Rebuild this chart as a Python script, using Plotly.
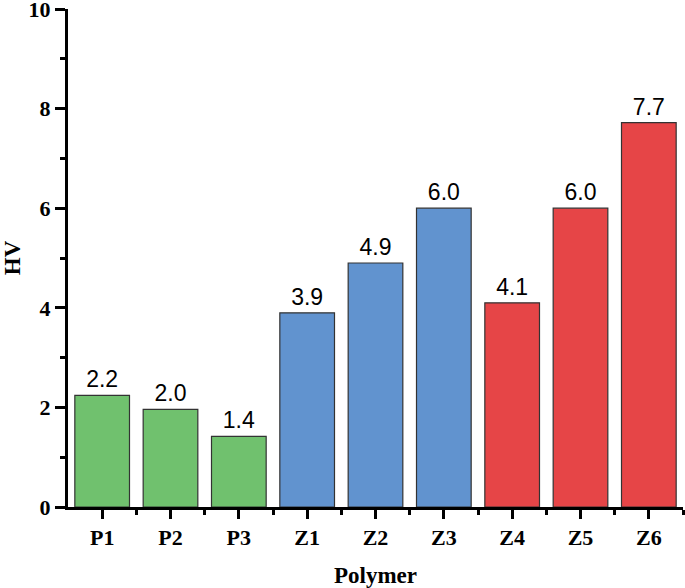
import plotly.graph_objects as go

categories = ["P1", "P2", "P3", "Z1", "Z2", "Z3", "Z4", "Z5", "Z6"]
hv_values = [2.24, 1.96, 1.42, 3.9, 4.9, 6.0, 4.1, 6.0, 7.72]
value_labels = ["2.2", "2.0", "1.4", "3.9", "4.9", "6.0", "4.1", "6.0", "7.7"]
bar_colors = ["#70C16E"] * 3 + ["#6193CF"] * 3 + ["#E64547"] * 3

xpos = list(range(len(categories)))

fig = go.Figure(go.Bar(
    x=xpos, y=hv_values, width=0.8,
    marker=dict(color=bar_colors, line=dict(color="#333333", width=1.2)),
    text=value_labels, textposition="outside", cliponaxis=False,
    textfont=dict(family="Liberation Sans, Arial", size=23, color="black"),
))

axis_font = dict(family="Liberation Serif, Times New Roman", size=22, color="black", weight="bold")
title_font = dict(family="Liberation Serif, Times New Roman", size=23, color="black", weight="bold")

fig.update_layout(
    width=685, height=588,
    margin=dict(l=68, r=2, t=9, b=81),
    plot_bgcolor="white", paper_bgcolor="white",
    showlegend=False,
    xaxis=dict(
        range=[-0.5, 8.5], tickvals=xpos, ticktext=categories,
        showline=True, linecolor="black", linewidth=3,
        ticks="outside", ticklen=9, tickwidth=3, tickcolor="black",
        minor=dict(tickvals=[i - 0.5 for i in range(1, len(categories) + 1)],
                   ticks="outside", ticklen=5, tickwidth=3, tickcolor="black"),
        tickfont=axis_font, showgrid=False, zeroline=False, automargin=False,
        title=dict(text="Polymer", font=title_font, standoff=18),
    ),
    yaxis=dict(
        range=[0, 10], tickvals=[0, 2, 4, 6, 8, 10],
        showline=True, linecolor="black", linewidth=3,
        ticks="outside", ticklen=10, tickwidth=3, tickcolor="black",
        minor=dict(tickvals=[1, 3, 5, 7, 9], ticks="outside", ticklen=5,
                   tickwidth=3, tickcolor="black"),
        tickfont=axis_font, showgrid=False, zeroline=False, automargin=False,
        ticklabeloverflow="allow",
        title=dict(text="HV", font=title_font, standoff=8),
    ),
)

fig.write_html("out.html", config={"displayModeBar": False},
               post_script="document.body.style.margin='0';document.body.style.padding='0';")
